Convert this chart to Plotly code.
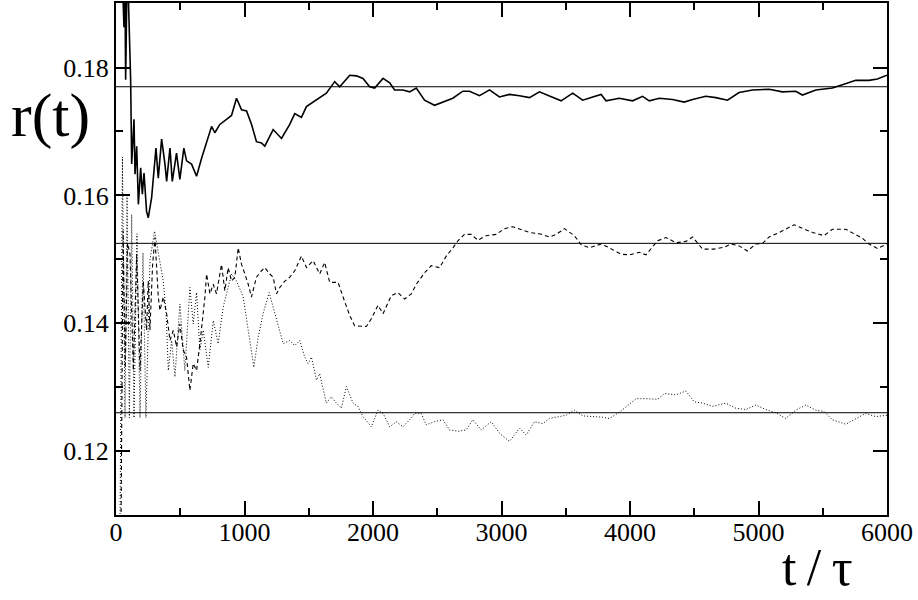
import plotly.graph_objects as go

# ---- data ----
t_solid = [45, 62, 68, 75, 88, 114, 122, 140, 148, 161, 174, 192, 205, 218, 238, 251, 277, 290, 311, 329,
           355, 381, 394, 420, 438, 471, 497, 528, 549, 588, 627, 666, 705, 744, 769, 808, 860, 899, 938, 977,
           1016, 1055, 1093, 1132, 1158, 1223, 1288, 1352, 1391, 1443, 1482, 1533, 1585, 1637, 1702, 1741, 1819,
           1871, 1922, 1974, 2013, 2078, 2130, 2168, 2233, 2285, 2337, 2401, 2479, 2544, 2621, 2699, 2751, 2829,
           2907, 2984, 3062, 3140, 3218, 3295, 3373, 3464, 3554, 3632, 3710, 3775, 3814, 3917, 4020, 4098, 4150,
           4228, 4331, 4422, 4487, 4590, 4668, 4759, 4849, 4953, 5083, 5186, 5290, 5342, 5446, 5575, 5653, 5757,
           5860, 5925, 6000]
r_solid = [0.197, 0.1863, 0.197, 0.1781, 0.197, 0.178, 0.1649, 0.1719, 0.1633, 0.1677, 0.1586, 0.1643, 0.1602,
           0.1635, 0.1575, 0.1565, 0.1596, 0.1625, 0.1674, 0.1627, 0.1688, 0.1649, 0.1622, 0.1674, 0.1622, 0.1666,
           0.1625, 0.1674, 0.1654, 0.1649, 0.1630, 0.1658, 0.1684, 0.1708, 0.1698, 0.1711, 0.1719, 0.1725, 0.1752,
           0.1734, 0.1732, 0.1711, 0.1684, 0.1682, 0.1677, 0.1703, 0.1689, 0.1711, 0.1728, 0.1722, 0.1739, 0.1746,
           0.1752, 0.1760, 0.1778, 0.1770, 0.1788, 0.1787, 0.1783, 0.1770, 0.1768, 0.1783, 0.1776, 0.1765, 0.1765,
           0.1762, 0.1768, 0.1749, 0.1741, 0.1746, 0.1752, 0.1763, 0.1763, 0.1756, 0.1765, 0.1754, 0.1758, 0.1756,
           0.1753, 0.1762, 0.1756, 0.1748, 0.1760, 0.1749, 0.1754, 0.1758, 0.1748, 0.1752, 0.1748, 0.1755, 0.1748,
           0.1752, 0.1750, 0.1746, 0.1750, 0.1755, 0.1753, 0.1749, 0.1761, 0.1765, 0.1766, 0.1762, 0.1763, 0.1757,
           0.1765, 0.1768, 0.1773, 0.1780, 0.1780, 0.1782, 0.1788]

t_dashed = [38, 55, 72, 90, 109, 135, 161, 187, 212, 238, 251, 264, 285, 303, 329, 342, 368, 394, 420, 446, 472,
            497, 523, 549, 575, 601, 627, 653, 692, 705, 731, 757, 782, 821, 847, 873, 899, 925, 951, 977, 1003,
            1029, 1054, 1093, 1132, 1158, 1197, 1223, 1249, 1275, 1314, 1352, 1391, 1443, 1482, 1534, 1585, 1624,
            1663, 1728, 1767, 1819, 1857, 1948, 1987, 2039, 2078, 2142, 2194, 2246, 2298, 2337, 2402, 2453, 2518,
            2570, 2622, 2661, 2712, 2764, 2816, 2881, 2959, 3023, 3088, 3153, 3218, 3295, 3373, 3425, 3490, 3567,
            3619, 3684, 3775, 3839, 3930, 3995, 4072, 4124, 4215, 4280, 4358, 4435, 4487, 4565, 4655, 4733, 4785,
            4850, 4914, 4979, 5031, 5083, 5161, 5277, 5342, 5420, 5510, 5575, 5679, 5744, 5808, 5860, 5925, 6000]
r_dashed = [0.105, 0.1545, 0.133, 0.1525, 0.1508, 0.1326, 0.1508, 0.1326, 0.1466, 0.1389, 0.1466, 0.1389, 0.1492,
            0.1534, 0.1441, 0.1420, 0.1441, 0.1415, 0.1373, 0.1389, 0.1363, 0.1399, 0.1358, 0.1347, 0.1295, 0.1337,
            0.1326, 0.1368, 0.1441, 0.1477, 0.1446, 0.1461, 0.1446, 0.1492, 0.1451, 0.1487, 0.1466, 0.1472, 0.1518,
            0.1492, 0.1477, 0.1461, 0.1441, 0.1472, 0.1482, 0.1487, 0.1477, 0.1472, 0.1446, 0.1456, 0.1466, 0.1472,
            0.1482, 0.1505, 0.1487, 0.1498, 0.1477, 0.1495, 0.1464, 0.1464, 0.1441, 0.1412, 0.1396, 0.1395, 0.1407,
            0.1428, 0.1415, 0.1443, 0.1448, 0.1438, 0.1446, 0.1461, 0.1479, 0.1490, 0.1487, 0.1505, 0.1518, 0.1529,
            0.1539, 0.1539, 0.1530, 0.1537, 0.1539, 0.1548, 0.1551, 0.1547, 0.1542, 0.1540, 0.1535, 0.1539, 0.1548,
            0.1537, 0.1523, 0.1518, 0.1524, 0.1518, 0.1508, 0.1507, 0.1511, 0.1507, 0.1529, 0.1534, 0.1526, 0.1528,
            0.1535, 0.1516, 0.1516, 0.1519, 0.1524, 0.1521, 0.1513, 0.1524, 0.1525, 0.1535, 0.1542, 0.1554, 0.1549,
            0.1542, 0.1537, 0.1547, 0.1547, 0.1540, 0.1533, 0.1524, 0.1517, 0.1524]

t_dotted = [30, 50, 70, 86, 104, 122, 140, 163, 187, 210, 233, 265, 300, 342, 368, 390, 407, 433, 459, 497, 536,
            575, 601, 627, 653, 679, 718, 757, 795, 834, 873, 899, 938, 990, 1029, 1073, 1106, 1145, 1192, 1236,
            1262, 1301, 1352, 1391, 1430, 1469, 1495, 1521, 1560, 1585, 1637, 1676, 1715, 1754, 1793, 1845, 1883,
            1922, 1987, 2039, 2078, 2130, 2181, 2233, 2285, 2324, 2376, 2414, 2479, 2544, 2596, 2661, 2725, 2777,
            2842, 2920, 2984, 3062, 3140, 3192, 3256, 3321, 3373, 3438, 3502, 3567, 3632, 3710, 3788, 3839, 3904,
            3969, 4047, 4124, 4215, 4267, 4357, 4435, 4500, 4565, 4642, 4746, 4824, 4902, 4979, 5057, 5135, 5212,
            5290, 5368, 5446, 5510, 5575, 5679, 5757, 5834, 5912, 6000]
r_dotted = [0.105, 0.166, 0.1252, 0.160, 0.1252, 0.157, 0.1252, 0.154, 0.1252, 0.151, 0.1252, 0.150, 0.1544,
            0.1498, 0.1466, 0.1415, 0.1326, 0.1373, 0.1316, 0.1430, 0.1326, 0.1456, 0.1399, 0.1448, 0.1358, 0.1389,
            0.1331, 0.1404, 0.1368, 0.1425, 0.1456, 0.1477, 0.1466, 0.1441, 0.1389, 0.1331, 0.1378, 0.1415, 0.1448,
            0.1415, 0.1394, 0.1368, 0.1373, 0.1365, 0.1373, 0.1347, 0.1337, 0.1347, 0.1311, 0.1321, 0.1275, 0.1285,
            0.1275, 0.1267, 0.1301, 0.1275, 0.1270, 0.1254, 0.1238, 0.1264, 0.1259, 0.1238, 0.1246, 0.1238, 0.1249,
            0.1259, 0.1259, 0.1241, 0.1246, 0.1249, 0.1233, 0.1231, 0.1233, 0.1249, 0.1233, 0.1246, 0.1228, 0.1215,
            0.1236, 0.1225, 0.1246, 0.1243, 0.1251, 0.1254, 0.1256, 0.1264, 0.1255, 0.1254, 0.1253, 0.1251, 0.1259,
            0.1269, 0.1282, 0.1282, 0.1281, 0.1290, 0.1288, 0.1294, 0.1277, 0.1275, 0.1270, 0.1275, 0.1267, 0.1265,
            0.1272, 0.1265, 0.1260, 0.1251, 0.1264, 0.1272, 0.1264, 0.1262, 0.1249, 0.1242, 0.1251, 0.1259, 0.1254,
            0.1256]

ref_levels = [0.177, 0.1525, 0.126]
x_range = [0, 6000]
y_range = [0.110, 0.1901]
x_tick_vals = [0, 1000, 2000, 3000, 4000, 5000, 6000]
x_tick_text = ["0", "1000", "2000", "3000", "4000", "5000", "6000"]
y_tick_vals = [0.12, 0.14, 0.16, 0.18]
y_tick_text = ["0.12", "0.14", "0.16", "0.18"]

FONT = "Liberation Serif, Times New Roman, serif"

fig = go.Figure()
for lvl in ref_levels:
    fig.add_trace(go.Scatter(x=x_range, y=[lvl, lvl], mode="lines",
                             line=dict(color="black", width=1), hoverinfo="skip"))
fig.add_trace(go.Scatter(x=t_solid, y=r_solid, mode="lines",
                         line=dict(color="black", width=1.6)))
fig.add_trace(go.Scatter(x=t_dashed, y=r_dashed, mode="lines",
                         line=dict(color="black", width=1.1, dash="4px,3px")))
fig.add_trace(go.Scatter(x=t_dotted, y=r_dotted, mode="lines",
                         line=dict(color="black", width=1, dash="1px,2px")))

axis_common = dict(showgrid=False, zeroline=False, showline=True, linecolor="black", linewidth=2,
                   mirror="allticks", ticks="inside", ticklen=14, tickwidth=1.5, tickcolor="black",
                   tickfont=dict(family=FONT, size=26, color="black"))

fig.update_xaxes(range=x_range, tickvals=x_tick_vals, ticktext=x_tick_text, ticklabelstandoff=-7,
                 minor=dict(dtick=500, tick0=0, ticks="inside", ticklen=7, tickwidth=1.5, tickcolor="black"),
                 **axis_common)
fig.update_yaxes(range=y_range, tickvals=y_tick_vals, ticktext=y_tick_text,
                 minor=dict(dtick=0.01, tick0=0.11, ticks="inside", ticklen=7, tickwidth=1.5, tickcolor="black"),
                 **axis_common)

L, R, T, B = 116, 31, 1, 85
W, H = 918, 600
pw, ph = W - L - R, H - T - B

def px2paper(px, py):
    return (px - L) / pw, (H - B - py) / ph

ax, ay = px2paper(50, 114)
bx, by = px2paper(817, 568)
fig.add_annotation(x=ax, y=ay, xref="paper", yref="paper", text="r(t)", showarrow=False,
                   xanchor="center", yanchor="middle", font=dict(family=FONT, size=62, color="black"))
fig.add_annotation(x=bx, y=by, xref="paper", yref="paper", text="t\u2009/\u2009τ", showarrow=False,
                   xanchor="center", yanchor="middle", font=dict(family=FONT, size=52, color="black"))

fig.update_layout(width=W, height=H, margin=dict(l=L, r=R, t=T, b=B),
                  paper_bgcolor="white", plot_bgcolor="white", showlegend=False)

fig.write_html("out.html", config={"displayModeBar": False},
               post_script="document.body.style.margin='0';document.body.style.padding='0';")
